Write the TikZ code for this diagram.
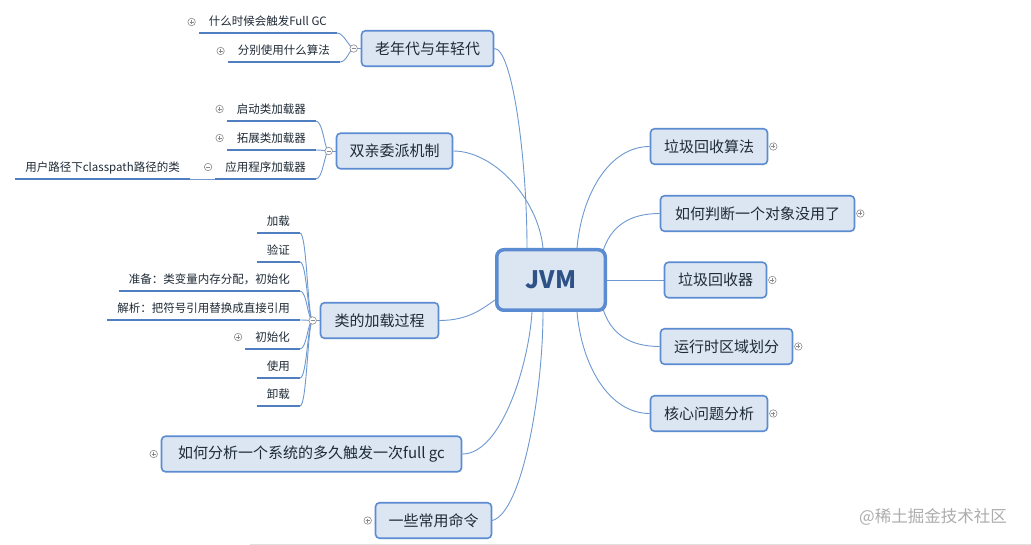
\documentclass[tikz,border=0pt]{standalone}
\usepackage{fontspec}
\setmainfont{Noto Sans CJK SC}
\usetikzlibrary{calc}
\pgfdeclarelayer{background}
\pgfsetlayers{background,main}
\definecolor{boxfill}{HTML}{DCE6F3}
\definecolor{boxdraw}{HTML}{5B8BD0}
\definecolor{linec}{HTML}{6E99D0}
\definecolor{ulc}{HTML}{4F7FC0}
\definecolor{txt}{HTML}{1E2A36}
\definecolor{jvmtxt}{HTML}{2E5286}
\definecolor{markc}{HTML}{8A8A8A}
\tikzset{
  topic/.style={draw=boxdraw, fill=boxfill, line width=1.6pt, rounded corners=4pt,
    text=txt, font=\fontsize{15}{18}\selectfont, minimum height=35.5pt, inner xsep=0pt},
  leaf/.style={anchor=south east, inner xsep=10pt, inner ysep=5pt, text height=9pt,
    text depth=2pt, text=txt, font=\fontsize{11.5}{13}\selectfont},
  conn/.style={draw=linec, line width=0.9pt},
  uline/.style={draw=ulc, line width=2.4pt},
  pm/.style={circle, draw=markc, fill=white, line width=0.6pt, minimum size=7.5pt, inner sep=0pt},
  pmplus/.style={pm, path picture={\draw[markc,line width=0.6pt]
     ([xshift=-2pt]path picture bounding box.center) -- ([xshift=2pt]path picture bounding box.center)
     ([yshift=-2pt]path picture bounding box.center) -- ([yshift=2pt]path picture bounding box.center);}},
  pmminus/.style={pm, path picture={\draw[markc,line width=0.6pt]
     ([xshift=-2pt]path picture bounding box.center) -- ([xshift=2pt]path picture bounding box.center);}},
}
\begin{document}
\begin{tikzpicture}[x=1pt,y=-1pt]
\useasboundingbox (0,0) rectangle (1031,545);

% central node
\node[draw=boxdraw, fill=boxfill, line width=3.5pt, rounded corners=7pt, minimum width=108.5pt,
  minimum height=60.5pt, text=jvmtxt, font=\fontsize{24}{28}\selectfont\bfseries] (jvm) at (551,280) {JVM};

% main topics
\node[topic, minimum width=132pt] (old) at (427.5,48.5) {老年代与年轻代};
\node[topic, minimum width=116pt] (pa) at (394.5,151) {双亲委派机制};
\node[topic, minimum width=118pt] (cl) at (379.5,320.5) {类的加载过程};
\node[topic, minimum width=300pt] (fg) at (311.5,454) {如何分析一个系统的多久触发一次full gc};
\node[topic, minimum width=116pt] (cmd) at (433.5,520.5) {一些常用命令};
\node[topic, minimum width=117pt] (gca) at (709,146.5) {垃圾回收算法};
\node[topic, minimum width=194pt] (judge) at (757.5,213.5) {如何判断一个对象没用了};
\node[topic, minimum width=102pt] (gcr) at (715.5,280) {垃圾回收器};
\node[topic, minimum width=132pt] (rt) at (726.5,346.5) {运行时区域划分};
\node[topic, minimum width=117pt] (core) at (709,413.5) {核心问题分析};

% plus marks of collapsed topics
\node[pmplus] (pgca) at ($(gca.east)+(5,0)$) {};
\node[pmplus] (pjudge) at ($(judge.east)+(5,0)$) {};
\node[pmplus] (pgcr) at ($(gcr.east)+(5,0)$) {};
\node[pmplus] (prt) at ($(rt.east)+(5,0)$) {};
\node[pmplus] (pcore) at ($(core.east)+(5,0)$) {};
\node[pmplus] (pfg) at ($(fg.west)+(-7,0)$) {};
\node[pmplus] (pcmd) at ($(cmd.west)+(-7,0)$) {};

% junctions
\node[pmminus] (j1) at ($(old.west)+(-7,0)$) {};
\node[pmminus] (j2) at ($(pa.west)+(-7,0)$) {};
\node[pmminus] (j3) at ($(cl.west)+(-7,0)$) {};

% leaves of 老年代与年轻代
\node[leaf] (o1) at (337,33) {什么时候会触发Full GC};
\node[leaf] (o2) at (340,62) {分别使用什么算法};
% leaves of 双亲委派机制
\node[leaf] (a1) at (316,121) {启动类加载器};
\node[leaf] (a2) at (316,150) {拓展类加载器};
\node[leaf] (a3) at (316,179) {应用程序加载器};
\node[leaf] (u1) at (190,179) {用户路径下classpath路径的类};
% leaves of 类的加载过程
\node[leaf] (l1) at (300,233) {加载};
\node[leaf] (l2) at (300,262) {验证};
\node[leaf] (l3) at (300,291) {准备：类变量内存分配，初始化};
\node[leaf] (l4) at (300,320) {解析：把符号引用替换成直接引用};
\node[leaf] (l5) at (300,349) {初始化};
\node[leaf] (l6) at (300,378) {使用};
\node[leaf] (l7) at (300,406) {卸载};

% leaf marks
\node[pmplus] (po1) at ($(o1.south west)+(-7,-11)$) {};
\node[pmplus] (po2) at ($(o2.south west)+(-7,-11)$) {};
\node[pmplus] (pa1) at ($(a1.south west)+(-7,-12)$) {};
\node[pmplus] (pa2) at ($(a2.south west)+(-7,-12)$) {};
\node[pmminus] (pa3) at ($(a3.south west)+(-7,-12)$) {};
\node[pmplus] (pl5) at ($(l5.south west)+(-7,-12)$) {};

% watermark
\node[text=black!32, font=\fontsize{16.5}{19}\selectfont] (wm) at (933,517) {@稀土掘金技术社区};

\begin{pgfonlayer}{background}
  \fill[white] (0,0) rectangle (1031,545);
  \draw[black!12, line width=1pt] (250,544.5) -- (1031,544.5);
  % underlines
  \foreach \n in {o1,o2,a1,a2,a3,u1,l1,l2,l3,l4,l5,l6,l7}
    \draw[uline] (\n.south west) -- (\n.south east);
  % brackets
  \foreach \n in {o1,o2}
    \draw[conn] (\n.south east) .. controls +(7,0) and +(-4,0) .. (j1.center);
  \foreach \n in {a1,a2,a3}
    \draw[conn] (\n.south east) .. controls +(7,0) and +(-4,0) .. (j2.center);
  \foreach \n in {l1,l2,l3,l4,l5,l6,l7}
    \draw[conn] (\n.south east) .. controls +(7,0) and +(-5,0) .. (j3.center);
  \draw[conn] (u1.south east) -- (a3.south west);
  \draw[conn] (j1.center) -- (old.west);
  \draw[conn] (j2.center) -- (pa.west);
  \draw[conn] (j3.center) -- (cl.west);
  % main connectors
  \draw[conn] (old.east) .. controls +(18,0) and +(0,-90) .. ($(jvm.north)+(-24,0)$);
  \draw[conn] (pa.east) .. controls +(40,0) and +(-5,-50) .. ($(jvm.north)+(-8,0)$);
  \draw[conn] (cl.east) .. controls +(30,0) and +(-12,8) .. ($(jvm.west)+(0,20)$);
  \draw[conn] (fg.east) .. controls +(40,0) and +(-3,50) .. ($(jvm.south)+(-19,0)$);
  \draw[conn] (cmd.east) .. controls +(30,-8) and +(0,80) .. ($(jvm.south)+(-8,0)$);
  \draw[conn] ($(jvm.north)+(26,0)$) .. controls +(5,-55) and +(-40,0) .. (gca.west);
  \draw[conn] ($(jvm.north east)+(-4,3)$) .. controls +(8,-25) and +(-30,0) .. (judge.west);
  \draw[conn] (jvm.east) -- (gcr.west);
  \draw[conn] ($(jvm.south east)+(-4,-3)$) .. controls +(8,25) and +(-30,0) .. (rt.west);
  \draw[conn] ($(jvm.south)+(26,0)$) .. controls +(5,55) and +(-40,0) .. (core.west);
\end{pgfonlayer}
\end{tikzpicture}
\end{document}
